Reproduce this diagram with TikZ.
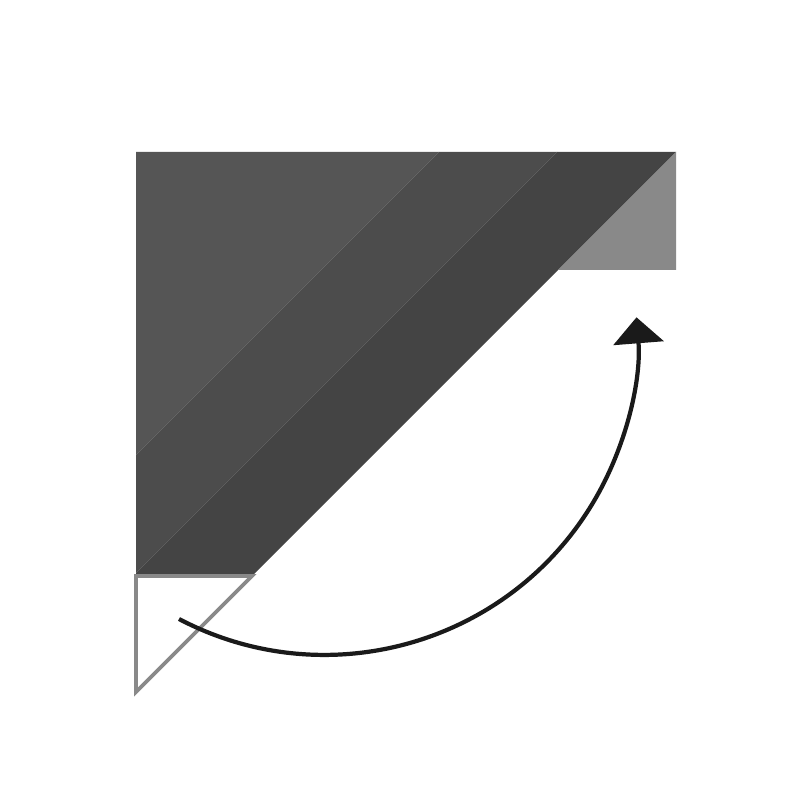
\documentclass[tikz,border=0pt]{standalone}
\usetikzlibrary{arrows.meta}
\definecolor{bandlight}{HTML}{555555}
\definecolor{bandmid}{HTML}{4C4C4C}
\definecolor{banddark}{HTML}{444444}
\definecolor{flapgray}{HTML}{898989}
\definecolor{arrowblack}{HTML}{1A1A1A}
\begin{document}
\begin{tikzpicture}[
	edge/.style={draw=flapgray, line width=1.1pt, line join=miter},
	turn/.style={draw=arrowblack, line width=1.2pt, -{Triangle[length=2.6mm, width=5mm]}}]
				\useasboundingbox (0,0) rectangle (8,8);

				% Sheet
				\fill[bandlight] (1.36,6.48) -- (4.39,6.48) -- (1.36,3.45) -- cycle;
				\fill[bandmid] (4.39,6.48) -- (5.57,6.48) -- (1.36,2.27) -- (1.36,3.45) -- cycle;
				\fill[banddark] (5.57,6.48) -- (6.76,6.48) -- (2.52,2.24) -- (1.36,2.24) -- (1.36,2.27) -- cycle;

				% Folded corner
				\fill[flapgray] (6.76,6.48) -- (6.76,5.30) -- (5.58,5.30) -- cycle;

				% Cut corner
				\draw[edge] (1.36,2.24) -- (2.52,2.24) -- (1.36,1.08) -- cycle;

				% Turn
				\coordinate (from) at (1.79,1.81);
				\draw[turn] (from) arc[start angle=-117.7, end angle=4.5, radius=3.13];
			\end{tikzpicture}
\end{document}
